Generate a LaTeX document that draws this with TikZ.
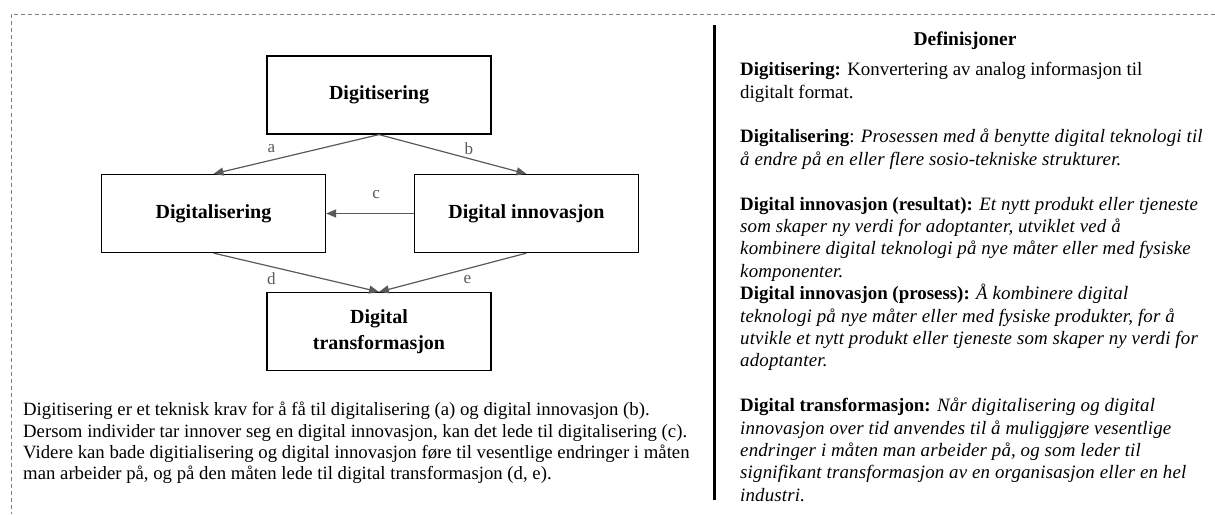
\documentclass[tikz,border=0pt]{standalone}
\usepackage{fontspec}
\setmainfont{Liberation Serif}[ItalicFeatures={LetterSpace=0.9}]
\usetikzlibrary{arrows.meta}
\definecolor{arrowgray}{HTML}{595959}
\definecolor{bordergray}{HTML}{7F7F7F}
\begin{document}
\begin{tikzpicture}[x=1pt,y=-1pt,
  box/.style={draw=black,line width=1.2pt,inner sep=0pt,minimum width=224pt,minimum height=78pt,font=\fontsize{20}{26}\selectfont\bfseries,align=center},
  conn/.style={draw=arrowgray,line width=1.2pt,-{Triangle[length=10pt,width=8pt]}},
  lab/.style={text=arrowgray,font=\fontsize{17}{20}\selectfont,inner sep=0pt},
  para/.style={inner sep=0pt,anchor=north west,align=left}]
\useasboundingbox (0,0) rectangle (1215,514);
\coordinate (btr) at (1215,14.5);
\coordinate (btl) at (11,14.5);
\coordinate (bbl) at (11,514);
\draw[bordergray,dash pattern=on 4pt off 3pt,line width=0.8pt] (btr) -- (btl) -- (bbl);

\node[box] (dgs) at (379,95) {Digitisering};
\node[box] (dgl) at (213.5,213.5) {Digitalisering};
\node[box] (din) at (526.5,213.5) {Digital innovasjon};
\node[box] (dtr) at (379,331.5) {Digital\\transformasjon};

\draw[conn] (dgs.south) -- (dgl.north) node[lab,pos=0.65,yshift=11.5pt] (la) {a};
\draw[conn] (dgs.south) -- (din.north) node[lab,pos=0.61,yshift=10pt] (lb) {b};
\draw[conn] (din.west) -- (dgl.east) node[lab,pos=0.43,yshift=18.5pt] (lc) {c};
\draw[conn] (dgl.south) -- (dtr.north) node[lab,pos=0.35,yshift=-12pt] (ld) {d};
\draw[conn] (din.south) -- (dtr.north) node[lab,pos=0.4,yshift=-10.5pt] (le) {e};

\node[para,font=\fontsize{18.75}{21.3}\selectfont] (desc) at (23,400.6) {\strut Digitisering er et teknisk krav for å få til digitalisering (a) og digital innovasjon (b).\\
Dersom individer tar innover seg en digital innovasjon, kan det lede til digitalisering (c).\\
Videre kan bade digitialisering og digital innovasjon føre til vesentlige endringer i måten\\
man arbeider på, og på den måten lede til digital transformasjon (d, e).};

\coordinate (vtop) at (714,25);
\coordinate (vbot) at (714,500);
\draw[black,line width=3pt] (vtop) -- (vbot);

\node[font=\fontsize{19.5}{22}\selectfont\bfseries,inner sep=0pt] (def) at (965,41) {Definisjoner};

\node[para,font=\fontsize{18.9}{22.4}\selectfont] (defs) at (740,59.8) {\strut\textbf{Digitisering:} Konvertering av analog informasjon til\\
digitalt format.\\[22.4pt]
\textbf{Digitalisering}: \textit{Prosessen med å benytte digital teknologi til}\\
\textit{å endre på en eller flere sosio-tekniske strukturer.}\\[22.4pt]
\textbf{Digital innovasjon (resultat):} \textit{Et nytt produkt eller tjeneste}\\
\textit{som skaper ny verdi for adoptanter, utviklet ved å}\\
\textit{kombinere digital teknologi på nye måter eller med fysiske}\\
\textit{komponenter.}\\
\textbf{Digital innovasjon (prosess):} \textit{Å kombinere digital}\\
\textit{teknologi på nye måter eller med fysiske produkter, for å}\\
\textit{utvikle et nytt produkt eller tjeneste som skaper ny verdi for}\\
\textit{adoptanter.}\\[22.4pt]
\textbf{Digital transformasjon:} \textit{Når digitalisering og digital}\\
\textit{innovasjon over tid anvendes til å muliggjøre vesentlige}\\
\textit{endringer i måten man arbeider på, og som leder til}\\
\textit{signifikant transformasjon av en organisasjon eller en hel}\\
\textit{industri.}};
\end{tikzpicture}
\end{document}
